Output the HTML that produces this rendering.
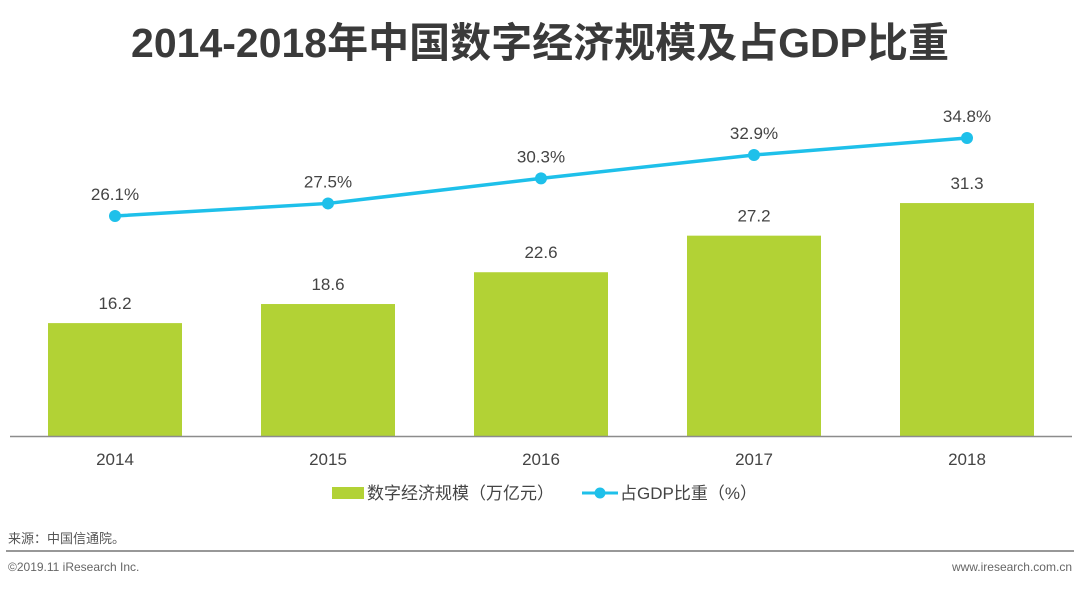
<!DOCTYPE html>
<html><head><meta charset="utf-8">
<style>
body{margin:0;width:1080px;height:586px;background:#fff;font-family:"Liberation Sans","Noto Sans CJK SC",sans-serif;overflow:hidden}
</style></head>
<body>
<svg width="1080" height="586" xmlns="http://www.w3.org/2000/svg">
<text x="540" y="57" text-anchor="middle" font-size="41" font-weight="bold" fill="#3a3a3a" font-family="Liberation Sans,Noto Sans CJK SC,sans-serif">2014-2018年中国数字经济规模及占GDP比重</text>
<g id="bars"></g>
<line x1="10" y1="436.5" x2="1072" y2="436.5" stroke="#8c8c8c" stroke-width="1.5"/>
<g id="line"></g>
<g>
<rect x="332" y="487" width="32" height="12" fill="#b2d235"/>
<text x="367" y="499" font-size="17" fill="#444">数字经济规模（万亿元）</text>
<line x1="582" y1="493" x2="618" y2="493" stroke="#1ec0ea" stroke-width="3"/>
<circle cx="600" cy="493" r="5.5" fill="#1ec0ea"/>
<text x="620" y="499" font-size="17" fill="#444">占GDP比重（%）</text>
</g>
<text x="8" y="543" font-size="13" fill="#555">来源：中国信通院。</text>
<line x1="6" y1="551" x2="1074" y2="551" stroke="#777" stroke-width="1.5"/>
<text x="8" y="571" font-size="12" fill="#666">©2019.11 iResearch Inc.</text>
<text x="1072" y="571" font-size="12" fill="#666" text-anchor="end">www.iresearch.com.cn</text>
</svg>
<script>
const categories=["2014","2015","2016","2017","2018"];
const scaleValues=[16.2,18.6,22.6,27.2,31.3];
const shareValues=[26.1,27.5,30.3,32.9,34.8];
const shareLabels=["26.1%","27.5%","30.3%","32.9%","34.8%"];
const NS="http://www.w3.org/2000/svg";
const xc=i=>115+i*213;
const yBar=v=>436-(v-2)*7.95;
const yLine=v=>216-(v-26.1)*8.97;
const bars=document.getElementById('bars'),line=document.getElementById('line');
function mk(t,a,p){const e=document.createElementNS(NS,t);for(const k in a)e.setAttribute(k,a[k]);p.appendChild(e);return e;}
categories.forEach((c,i)=>{
 const y=yBar(scaleValues[i]);
 const r=mk('rect',{x:xc(i)-67,y:y,width:134,height:436-y,fill:'#b2d235'},bars);
 
 
 const t=mk('text',{x:xc(i),y:y-14,'text-anchor':'middle','font-size':17,fill:'#444'},bars);t.textContent=scaleValues[i].toFixed(1);
 
 
 const l=mk('text',{x:xc(i),y:465,'text-anchor':'middle','font-size':17,fill:'#444'},bars);l.textContent=c;
 
 
});
const pts=shareValues.map((v,i)=>xc(i)+','+yLine(v)).join(' ');
const pl=mk('polyline',{points:pts,fill:'none',stroke:'#1ec0ea','stroke-width':3.5},line);


shareValues.forEach((v,i)=>{
 const c=mk('circle',{cx:xc(i),cy:yLine(v),r:6,fill:'#1ec0ea'},line);
 
 
 const t=mk('text',{x:xc(i),y:yLine(v)-16,'text-anchor':'middle','font-size':17,fill:'#444'},line);t.textContent=shareLabels[i];
 
 
});
</script>
</body></html>
